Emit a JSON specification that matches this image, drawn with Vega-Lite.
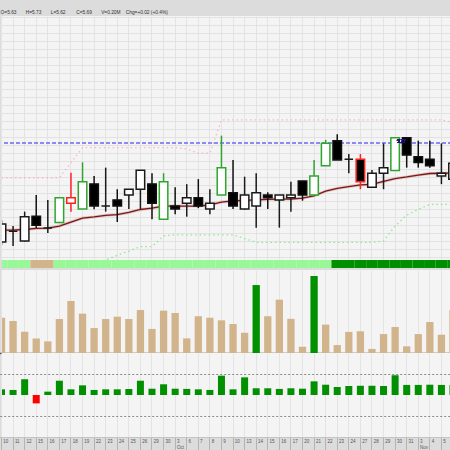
{
  "$schema": "https://vega.github.io/schema/vega-lite/v6.json",
  "padding": 0,
  "background": "#dcdcdc",
  "spacing": 2,
  "resolve": {"scale": {"color": "independent", "fill": "independent", "stroke": "independent", "x": "independent", "y": "independent"}},
  "title": {
    "text": ["\u00a0", "O=5.63\u00a0\u00a0\u00a0\u00a0\u00a0\u00a0\u00a0H=5.73\u00a0\u00a0\u00a0\u00a0\u00a0\u00a0\u00a0L=5.62\u00a0\u00a0\u00a0\u00a0\u00a0\u00a0\u00a0\u00a0C=5.69\u00a0\u00a0\u00a0\u00a0\u00a0\u00a0\u00a0V=0.20M\u00a0\u00a0\u00a0\u00a0Chg=+0.02 (+0.4%)"],
    "anchor": "start",
    "frame": "bounds",
    "font": "Liberation Sans",
    "fontSize": 4.8,
    "fontWeight": "normal",
    "color": "#333333",
    "lineHeight": 9.5,
    "offset": 1.7
  },
  "data": {
    "values": [
      {"d": "Sep 10", "o": 5.395, "h": 5.478, "l": 5.384, "c": 5.463, "k": "up", "ma": 5.440, "ub": 5.636, "lb": 5.30, "v": 0.164, "vk": "n", "ind": 0.27, "sk": "lg"},
      {"d": "Sep 11", "o": 5.435, "h": 5.455, "l": 5.380, "c": 5.435, "k": "up", "ma": 5.440, "ub": 5.636, "lb": 5.30, "v": 0.149, "vk": "n", "ind": 0.24, "sk": "lg"},
      {"d": "Sep 12", "o": 5.399, "h": 5.509, "l": 5.397, "c": 5.490, "k": "up", "ma": 5.442, "ub": 5.636, "lb": 5.30, "v": 0.099, "vk": "n", "ind": 0.75, "sk": "lg"},
      {"d": "Sep 15", "o": 5.492, "h": 5.571, "l": 5.448, "c": 5.458, "k": "down", "ma": 5.446, "ub": 5.636, "lb": 5.30, "v": 0.068, "vk": "n", "ind": -0.40, "sk": "tan"},
      {"d": "Sep 16", "o": 5.448, "h": 5.553, "l": 5.429, "c": 5.448, "k": "up", "ma": 5.447, "ub": 5.636, "lb": 5.30, "v": 0.054, "vk": "n", "ind": 0.16, "sk": "tan"},
      {"d": "Sep 17", "o": 5.468, "h": 5.564, "l": 5.466, "c": 5.561, "k": "green", "ma": 5.455, "ub": 5.636, "lb": 5.30, "v": 0.158, "vk": "n", "ind": 0.68, "sk": "lg"},
      {"d": "Sep 18", "o": 5.540, "h": 5.655, "l": 5.509, "c": 5.561, "k": "red", "ma": 5.470, "ub": 5.693, "lb": 5.30, "v": 0.242, "vk": "n", "ind": 0.27, "sk": "lg"},
      {"d": "Sep 19", "o": 5.519, "h": 5.694, "l": 5.519, "c": 5.621, "k": "green", "ma": 5.485, "ub": 5.749, "lb": 5.30, "v": 0.183, "vk": "n", "ind": 0.46, "sk": "lg"},
      {"d": "Sep 22", "o": 5.613, "h": 5.643, "l": 5.518, "c": 5.530, "k": "down", "ma": 5.489, "ub": 5.749, "lb": 5.30, "v": 0.116, "vk": "n", "ind": 0.24, "sk": "lg"},
      {"d": "Sep 23", "o": 5.530, "h": 5.674, "l": 5.509, "c": 5.530, "k": "up", "ma": 5.495, "ub": 5.749, "lb": 5.328, "v": 0.158, "vk": "n", "ind": 0.27, "sk": "lg"},
      {"d": "Sep 24", "o": 5.553, "h": 5.593, "l": 5.470, "c": 5.530, "k": "down", "ma": 5.498, "ub": 5.749, "lb": 5.345, "v": 0.169, "vk": "n", "ind": 0.27, "sk": "lg"},
      {"d": "Sep 25", "o": 5.571, "h": 5.594, "l": 5.519, "c": 5.593, "k": "up", "ma": 5.506, "ub": 5.749, "lb": 5.361, "v": 0.158, "vk": "n", "ind": 0.29, "sk": "lg"},
      {"d": "Sep 26", "o": 5.593, "h": 5.665, "l": 5.519, "c": 5.664, "k": "up", "ma": 5.517, "ub": 5.749, "lb": 5.378, "v": 0.200, "vk": "n", "ind": 0.68, "sk": "lg"},
      {"d": "Sep 29", "o": 5.613, "h": 5.653, "l": 5.480, "c": 5.540, "k": "down", "ma": 5.522, "ub": 5.749, "lb": 5.378, "v": 0.112, "vk": "n", "ind": 0.30, "sk": "lg"},
      {"d": "Sep 30", "o": 5.480, "h": 5.653, "l": 5.480, "c": 5.621, "k": "green", "ma": 5.530, "ub": 5.749, "lb": 5.418, "v": 0.197, "vk": "n", "ind": 0.51, "sk": "lg"},
      {"d": "Oct 3", "o": 5.530, "h": 5.600, "l": 5.499, "c": 5.519, "k": "down", "ma": 5.530, "ub": 5.749, "lb": 5.422, "v": 0.186, "vk": "n", "ind": 0.30, "sk": "lg"},
      {"d": "Oct 6", "o": 5.540, "h": 5.612, "l": 5.490, "c": 5.561, "k": "up", "ma": 5.530, "ub": 5.744, "lb": 5.422, "v": 0.068, "vk": "n", "ind": 0.29, "sk": "lg"},
      {"d": "Oct 7", "o": 5.561, "h": 5.631, "l": 5.522, "c": 5.530, "k": "down", "ma": 5.530, "ub": 5.728, "lb": 5.422, "v": 0.171, "vk": "n", "ind": 0.27, "sk": "lg"},
      {"d": "Oct 8", "o": 5.519, "h": 5.593, "l": 5.499, "c": 5.540, "k": "up", "ma": 5.534, "ub": 5.728, "lb": 5.422, "v": 0.164, "vk": "n", "ind": 0.24, "sk": "lg"},
      {"d": "Oct 9", "o": 5.571, "h": 5.794, "l": 5.571, "c": 5.674, "k": "green", "ma": 5.545, "ub": 5.853, "lb": 5.422, "v": 0.152, "vk": "n", "ind": 0.92, "sk": "lg"},
      {"d": "Oct 10", "o": 5.580, "h": 5.703, "l": 5.519, "c": 5.530, "k": "down", "ma": 5.549, "ub": 5.853, "lb": 5.422, "v": 0.135, "vk": "n", "ind": 0.27, "sk": "lg"},
      {"d": "Oct 13", "o": 5.519, "h": 5.640, "l": 5.517, "c": 5.571, "k": "up", "ma": 5.551, "ub": 5.853, "lb": 5.408, "v": 0.094, "vk": "n", "ind": 0.84, "sk": "lg"},
      {"d": "Oct 14", "o": 5.530, "h": 5.653, "l": 5.449, "c": 5.580, "k": "up", "ma": 5.553, "ub": 5.853, "lb": 5.394, "v": 0.316, "vk": "g", "ind": 0.32, "sk": "lg"},
      {"d": "Oct 15", "o": 5.571, "h": 5.582, "l": 5.519, "c": 5.561, "k": "down", "ma": 5.555, "ub": 5.853, "lb": 5.394, "v": 0.171, "vk": "n", "ind": 0.32, "sk": "lg"},
      {"d": "Oct 16", "o": 5.553, "h": 5.571, "l": 5.449, "c": 5.571, "k": "up", "ma": 5.556, "ub": 5.853, "lb": 5.394, "v": 0.248, "vk": "n", "ind": 0.29, "sk": "lg"},
      {"d": "Oct 17", "o": 5.561, "h": 5.621, "l": 5.509, "c": 5.571, "k": "up", "ma": 5.556, "ub": 5.853, "lb": 5.394, "v": 0.159, "vk": "n", "ind": 0.32, "sk": "lg"},
      {"d": "Oct 20", "o": 5.624, "h": 5.624, "l": 5.550, "c": 5.571, "k": "down", "ma": 5.560, "ub": 5.853, "lb": 5.394, "v": 0.029, "vk": "n", "ind": 0.30, "sk": "lg"},
      {"d": "Oct 21", "o": 5.571, "h": 5.703, "l": 5.571, "c": 5.643, "k": "green", "ma": 5.568, "ub": 5.853, "lb": 5.394, "v": 0.358, "vk": "g", "ind": 0.65, "sk": "lg"},
      {"d": "Oct 22", "o": 5.681, "h": 5.778, "l": 5.681, "c": 5.765, "k": "green", "ma": 5.586, "ub": 5.853, "lb": 5.394, "v": 0.132, "vk": "n", "ind": 0.49, "sk": "lg"},
      {"d": "Oct 23", "o": 5.775, "h": 5.799, "l": 5.703, "c": 5.703, "k": "down", "ma": 5.596, "ub": 5.853, "lb": 5.394, "v": 0.037, "vk": "n", "ind": 0.38, "sk": "dg"},
      {"d": "Oct 24", "o": 5.705, "h": 5.725, "l": 5.653, "c": 5.705, "k": "up", "ma": 5.603, "ub": 5.853, "lb": 5.394, "v": 0.098, "vk": "n", "ind": 0.43, "sk": "dg"},
      {"d": "Oct 27", "o": 5.705, "h": 5.725, "l": 5.593, "c": 5.621, "k": "reddown", "ma": 5.609, "ub": 5.853, "lb": 5.394, "v": 0.101, "vk": "n", "ind": 0.44, "sk": "dg"},
      {"d": "Oct 28", "o": 5.600, "h": 5.665, "l": 5.600, "c": 5.653, "k": "up", "ma": 5.611, "ub": 5.853, "lb": 5.394, "v": 0.019, "vk": "n", "ind": 0.44, "sk": "dg"},
      {"d": "Oct 29", "o": 5.653, "h": 5.765, "l": 5.593, "c": 5.674, "k": "up", "ma": 5.622, "ub": 5.853, "lb": 5.399, "v": 0.088, "vk": "n", "ind": 0.43, "sk": "dg"},
      {"d": "Oct 30", "o": 5.663, "h": 5.786, "l": 5.663, "c": 5.786, "k": "green", "ma": 5.633, "ub": 5.853, "lb": 5.455, "v": 0.121, "vk": "n", "ind": 0.94, "sk": "dg"},
      {"d": "Oct 31", "o": 5.786, "h": 5.786, "l": 5.674, "c": 5.721, "k": "down", "ma": 5.639, "ub": 5.853, "lb": 5.496, "v": 0.031, "vk": "n", "ind": 0.48, "sk": "dg"},
      {"d": "Nov 3", "o": 5.715, "h": 5.775, "l": 5.674, "c": 5.693, "k": "down", "ma": 5.646, "ub": 5.853, "lb": 5.517, "v": 0.088, "vk": "n", "ind": 0.48, "sk": "dg"},
      {"d": "Nov 4", "o": 5.705, "h": 5.775, "l": 5.674, "c": 5.681, "k": "down", "ma": 5.652, "ub": 5.853, "lb": 5.536, "v": 0.144, "vk": "n", "ind": 0.49, "sk": "dg"},
      {"d": "Nov 5", "o": 5.643, "h": 5.765, "l": 5.612, "c": 5.653, "k": "up", "ma": 5.653, "ub": 5.853, "lb": 5.536, "v": 0.085, "vk": "n", "ind": 0.48, "sk": "dg"},
      {"d": "Nov 6", "o": 5.63, "h": 5.73, "l": 5.62, "c": 5.69, "k": "up", "ma": 5.654, "ub": 5.843, "lb": 5.536, "v": 0.200, "vk": "n", "ind": 0.48, "sk": "dg"}
    ]
  },
  "vconcat": [
    {
      "spacing": 0,
      "resolve": {"scale": {"color": "independent", "fill": "independent", "stroke": "independent", "x": "independent", "y": "independent"}},
      "vconcat": [
        {
          "width": 450,
          "height": 244,
          "encoding": {
            "x": {"field": "d", "type": "ordinal", "sort": null, "title": null,
              "scale": {"type": "band", "range": [-6.29, 456.79], "paddingInner": 0, "paddingOuter": 0},
              "axis": {"grid": true, "labels": false, "ticks": false, "domain": false, "gridColor": "#e4e4e4", "title": null}},
            "y": {"field": "ma", "type": "quantitative", "title": null,
              "scale": {"domain": [5.3276, 6.2426], "zero": false, "nice": false},
              "axis": {"grid": true, "labels": false, "ticks": false, "domain": false, "gridColor": "#e2e2e2", "title": null,
                "values": [5.34,5.37,5.40,5.43,5.46,5.49,5.52,5.55,5.58,5.61,5.64,5.67,5.70,5.73,5.76,5.79,5.82,5.85,5.88,5.91,5.94,5.97,6.00,6.03,6.06,6.09,6.12,6.15,6.18,6.21,6.24]}}
          },
          "layer": [
            {
              "mark": {"type": "rule", "stroke": "#8c8cf0", "strokeDash": [4, 2], "strokeWidth": 1.2},
              "encoding": {"y": {"datum": 5.765, "type": "quantitative"}, "x": null}
            },
            {
              "mark": {"type": "line", "stroke": "#ffb4bc", "strokeDash": [1.5, 3], "strokeWidth": 1.3, "clip": true},
              "encoding": {"y": {"field": "ub", "type": "quantitative"}, "x": {"field": "d", "type": "ordinal", "sort": null, "bandPosition": 0.5}}
            },
            {
              "mark": {"type": "line", "stroke": "#8fe88f", "strokeDash": [1.5, 3], "strokeWidth": 1.3, "clip": true},
              "encoding": {"y": {"field": "lb", "type": "quantitative"}, "x": {"field": "d", "type": "ordinal", "sort": null, "bandPosition": 0.5}}
            },
            {
              "mark": {"type": "line", "stroke": "#d9b3b3", "strokeWidth": 3, "opacity": 0.7, "clip": true},
              "encoding": {"x": {"field": "d", "type": "ordinal", "sort": null, "bandPosition": 0.5}}
            },
            {
              "mark": {"type": "line", "stroke": "#7a1616", "strokeWidth": 1.3, "clip": true},
              "encoding": {"x": {"field": "d", "type": "ordinal", "sort": null, "bandPosition": 0.5}}
            },
            {
              "mark": {"type": "rule", "strokeWidth": 1.5, "clip": true},
              "encoding": {
                "y": {"field": "l", "type": "quantitative"},
                "y2": {"field": "h"},
                "color": {"field": "k", "type": "nominal", "legend": null,
                  "scale": {"domain": ["up", "down", "green", "red", "reddown"], "range": ["#1a1a1a", "#111111", "#2fa52f", "#ff2020", "#ff2020"]}}
              }
            },
            {
              "mark": {"type": "bar", "width": 8.5, "strokeWidth": 1.5, "clip": true},
              "encoding": {
                "y": {"field": "o", "type": "quantitative"},
                "y2": {"field": "c"},
                "fill": {"field": "k", "type": "nominal", "legend": null,
                  "scale": {"domain": ["up", "down", "green", "red", "reddown"], "range": ["#ffffff", "#000000", "#ffffff", "#ffffff", "#000000"]}},
                "stroke": {"field": "k", "type": "nominal", "legend": null,
                  "scale": {"domain": ["up", "down", "green", "red", "reddown"], "range": ["#1a1a1a", "#111111", "#2fa52f", "#ff2020", "#ff2020"]}}
              }
            },
            {
              "mark": {"type": "text", "text": "5.77", "font": "Liberation Sans", "fontSize": 4.5, "color": "#1a1a80", "align": "left", "baseline": "middle", "dx": 2, "dy": -1},
              "encoding": {"y": {"datum": 5.765, "type": "quantitative"}, "x": {"datum": "Oct 30", "type": "ordinal", "bandPosition": 0.5}}
            }
          ]
        },
        {
          "width": 450,
          "height": 8,
          "mark": {"type": "bar", "clip": true},
          "encoding": {
            "x": {"field": "d", "type": "ordinal", "sort": null, "title": null,
              "scale": {"type": "band", "range": [-6.29, 456.79], "paddingInner": 0, "paddingOuter": 0},
              "axis": null},
            "color": {"field": "sk", "type": "nominal", "legend": null,
              "scale": {"domain": ["lg", "tan", "dg"], "range": ["#98f898", "#d2b48c", "#008f00"]}}
          }
        }
      ]
    },
    {
      "spacing": 0,
      "resolve": {"scale": {"color": "independent", "x": "independent", "y": "independent"}},
      "vconcat": [
        {
          "width": 450,
          "height": 83,
          "mark": {"type": "bar", "width": 7.3, "clip": true},
          "encoding": {
            "x": {"field": "d", "type": "ordinal", "sort": null, "title": null,
              "scale": {"type": "band", "range": [-6.29, 456.79], "paddingInner": 0, "paddingOuter": 0},
              "axis": {"grid": true, "labels": false, "ticks": false, "domain": true, "domainColor": "#555555", "domainWidth": 1.5, "gridColor": "#e4e4e4", "title": null}},
            "y": {"field": "v", "type": "quantitative", "title": null,
              "scale": {"domain": [0, 0.386], "nice": false}, "axis": null},
            "color": {"field": "vk", "type": "nominal", "legend": null,
              "scale": {"domain": ["n", "g"], "range": ["#d2b48c", "#009000"]}}
          }
        },
        {
          "width": 450,
          "height": 84,
          "mark": {"type": "bar", "width": 7, "clip": true},
          "encoding": {
            "x": {"field": "d", "type": "ordinal", "sort": null, "title": null,
              "scale": {"type": "band", "range": [-6.29, 456.79], "paddingInner": 0, "paddingOuter": 0},
              "axis": {"grid": true, "gridColor": "#e4e4e4", "domain": true, "domainColor": "#c4c4c4", "title": null,
                "ticks": true, "tickSize": 13, "tickColor": "#a8a8a8", "tickWidth": 0.8,
                "labels": true, "labelAlign": "left", "labelBaseline": "top", "labelPadding": -12, "labelOffset": 1.8,
                "labelFont": "Liberation Sans", "labelFontSize": 4.5, "labelColor": "#555555", "labelLineHeight": 6.3,
                "labelAngle": 0, "labelOverlap": false, "labelBound": false, "labelFlush": false,
                "labelExpr": "datum.value == 'Oct 3' || datum.value == 'Nov 3' ? [substring(datum.value, 4), substring(datum.value, 0, 3)] : (datum.value == 'Nov 6' ? '' : substring(datum.value, 4))"}},
            "y": {"field": "ind", "type": "quantitative", "title": null,
              "scale": {"domain": [-2, 2], "nice": false},
              "axis": {"values": [-1, 1], "grid": true, "gridColor": "#8a8a8a", "gridDash": [2, 2], "gridWidth": 1, "labels": false, "ticks": false, "domain": false, "title": null}},
            "color": {"condition": {"test": "datum.ind < 0", "value": "#ff0000"}, "value": "#009000"}
          }
        }
      ]
    }
  ],
  "config": {
    "view": {"stroke": null, "fill": "#f4f4f4"},
    "legend": {"disable": true}
  }
}
